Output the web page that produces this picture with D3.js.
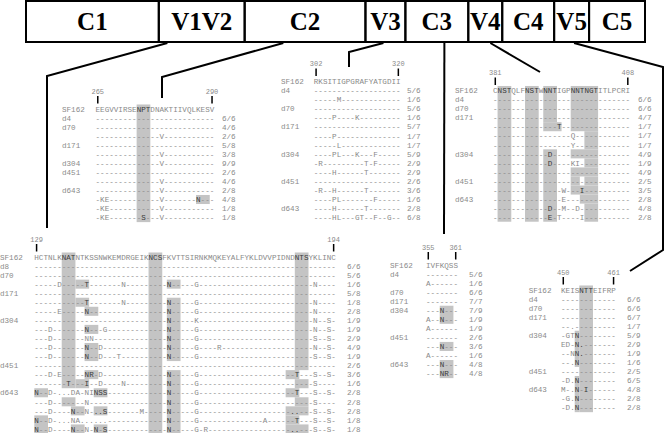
<!DOCTYPE html>
<html>
<head>
<meta charset="utf-8">
<script src="https://cdn.jsdelivr.net/npm/d3@7"></script>
<style>
  body { margin: 0; background: #fff; }
  svg { display: block; }
</style>
</head>
<body>
<svg id="chart" width="664" height="433"></svg>
<script>
// envelope regions along the top bar (schematic lengths)
const regionNames = ["C1", "V1V2", "C2", "V3", "C3", "V4", "C4", "V5", "C5"];
const regionUnits = [133, 86, 121, 40, 63, 34, 52, 35, 56];

// variant notation: "<col><letters>" tokens, everything else is "-" (same as SF162)
// shading: [firstRow, lastRow, firstCol, lastCol], row 0 = SF162

// V1V2, HXB2 129-194
const v1v2Span = [129, 194];
const v1v2Ref = "HCTNLKNATNTKSSNWKEMDRGEIKNCSFKVTTSIRNKMQKEYALFYKLDVVPIDNDNTSYKLINC";
const v1v2Donors = ["d8", "d70", "", "d171", "", "", "d304", "", "", "", "", "d451", "", "", "d643", "", "", "", ""];
const v1v2Vars = [
  "", "",
  "5D 11T 19N 29N 35G 61N",
  "",
  "11T 19N 29N 35G 61N",
  "5E 11N 29N 35G 61N",
  "29N 35K 61N 64S",
  "3D 11N 15G 29N 35G 61N 64S",
  "3D 11NN 29N 35G 61S 64S",
  "3D 11N 14D 29N 35G 40R 61N 64S",
  "3D 11N 14D 18T 29N 35G 61S 64S",
  "",
  "3D 5E 11NR 14D 29N 35G 57T 61S 64S",
  "7T 11I 14D 19N 29N 35G 61S",
  "0N 3D 5... 8DA 11NINSS 29N 35G 57T 61S 64S",
  "3D 11N 29N 35G 61S",
  "3D 8N 11N 13..S 23M 29N 35G 56.. 61S 64S",
  "0N 3D 5... 8NA 10...... 29N 35G 50A 57T 61S 64S",
  "0N 3D 8N 11N 13N 15S 29N 35G 37R 56.. 61S 64S"
];
const v1v2Freq = ["6/6", "5/6", "1/6", "5/8", "1/8", "2/8", "1/9", "1/9", "2/9", "4/9", "1/9",
  "2/6", "3/6", "1/6", "2/8", "2/8", "2/8", "1/8", "1/8"];
const v1v2Glyc = [
  [0, 14, 6, 8], [3, 3, 9, 11], [5, 5, 9, 11], [14, 14, 9, 11], [16, 16, 6, 8],
  [6, 6, 11, 13], [8, 8, 11, 13], [10, 11, 11, 13], [13, 13, 11, 13],
  [15, 15, 13, 15], [15, 15, 0, 2], [18, 19, 0, 2], [17, 17, 8, 10], [19, 19, 8, 10],
  [17, 17, 13, 15], [19, 19, 13, 15],
  [0, 19, 25, 27],
  [3, 3, 29, 31], [5, 11, 29, 31], [13, 19, 29, 31],
  [0, 12, 57, 59], [13, 13, 55, 57], [14, 14, 57, 59], [15, 15, 55, 57], [16, 16, 57, 59],
  [17, 17, 55, 59], [18, 18, 55, 57], [19, 19, 55, 59]
];

// C2, HXB2 265-290
const c2Span = [265, 290];
const c2Ref = "EEGVVIRSENPTDNAKTIIVQLKESV";
const c2Donors = ["d4", "d70", "", "d171", "", "d304", "d451", "", "d643", "", "", ""];
const c2Vars = ["", "", "14V", "", "14V", "14V", "", "14V", "14V", "1KE 14V 22N", "1KE 14V", "1KE 10S 14V"];
const c2Freq = ["6/6", "4/6", "2/6", "5/8", "3/8", "9/9", "2/6", "4/6", "2/8", "4/8", "1/8", "1/8"];
const c2Glyc = [[0, 12, 9, 11], [10, 10, 22, 24]];

// V3, HXB2 302-320
const v3Span = [302, 320];
const v3Ref = "RKSITIGPGRAFYATGDII";
const v3Donors = ["d4", "", "d70", "", "d171", "", "", "d304", "", "", "d451", "", "", "d643", ""];
const v3Vars = ["", "5M", "", "4P 9K", "", "4P", "5L", "4PL 9K 13F", "1R 11T 13F", "4H 11T", "",
  "1R 4H 11T", "4PL 13F", "4H 11T", "4HL 9GT 13F 16G"];
const v3Freq = ["5/6", "1/6", "5/6", "1/6", "5/7", "1/7", "1/7", "5/9", "2/9", "2/9", "2/6", "3/6", "1/6", "2/8", "6/8"];
const v3Glyc = [];

// C3, HXB2 355-361
const c3Span = [355, 361];
const c3Ref = "IVFKQSS";
const c3Donors = ["d4", "", "d70", "d171", "d304", "", "", "d451", "", "", "d643", ""];
const c3Vars = ["", "0A", "", "", "3N", "0A 3N", "0A", "", "3N", "0A", "3N", "3NR"];
const c3Freq = ["5/6", "1/6", "6/6", "7/7", "7/9", "1/9", "1/9", "2/6", "3/6", "1/6", "4/8", "4/8"];
const c3Glyc = [[5, 6, 3, 5], [9, 9, 3, 5], [11, 12, 3, 5]];

// V4, HXB2 381-408
const v4Span = [381, 408];
const v4Ref = "CNSTQLFNSTWNNTIGPNNTNGTITLPCRI";
const v4Donors = ["d4", "d70", "d171", "", "", "", "d304", "", "", "d451", "", "d643", "", ""];
const v4Vars = ["", "", "", "14T", "17Q", "17Y", "12D", "12D 17KI", "", "", "15W 19I", "15E", "12D 15M 18D", "12E 14T 19I"];
const v4Freq = ["6/6", "6/6", "4/7", "1/7", "1/7", "1/7", "4/9", "1/9", "4/9", "2/5", "3/5", "2/8", "4/8", "2/8"];
const v4Glyc = [
  [0, 14, 1, 3], [0, 14, 7, 9], [0, 3, 11, 13], [4, 4, 11, 14], [7, 14, 11, 13],
  [0, 4, 17, 22], [5, 6, 20, 22], [7, 7, 17, 22], [8, 8, 20, 22], [9, 9, 17, 22],
  [10, 10, 17, 18], [10, 10, 20, 22], [11, 11, 17, 22], [12, 12, 19, 22], [13, 14, 20, 22]
];

// V5, HXB2 450-461
const v5Span = [450, 461];
const v5Ref = "KEISNTTEIFRP";
const v5Donors = ["d4", "d70", "d171", "", "d304", "", "", "", "d451", "", "d643", "", ""];
const v5Vars = ["", "", "", "2.", "1GTN", "0ED 3N.", "2NN.", "2.N", "", "1D.N", "0M 2.N 5I", "1G.N", "1D.N"];
const v5Freq = ["6/6", "6/6", "6/7", "1/7", "5/9", "2/9", "1/9", "1/6", "2/5", "6/5", "4/8", "2/8", "2/8"];
const v5Glyc = [[0, 13, 4, 6], [5, 8, 3, 3], [10, 13, 3, 3]];

// ---- layout ----
const W = 664, H = 433;
const CW = 4.57, ROW = 9.05, FS = 7.6;
const MONO = '"Liberation Mono", "DejaVu Sans Mono", monospace';
const GREY = "#8a8a8a", DARK = "#3a3a3a", SHADE = "#c4c4c4";

const panels = [
  { span: v1v2Span, ref: v1v2Ref, donors: v1v2Donors, vars: v1v2Vars, freq: v1v2Freq, glyc: v1v2Glyc,
    labelX: 0, seqX: 34.3, y0: 257, fracX: 347 },
  { span: c2Span, ref: c2Ref, donors: c2Donors, vars: c2Vars, freq: c2Freq, glyc: c2Glyc,
    labelX: 62, seqX: 95.5, y0: 109, fracX: 222 },
  { span: v3Span, ref: v3Ref, donors: v3Donors, vars: v3Vars, freq: v3Freq, glyc: v3Glyc,
    labelX: 281, seqX: 313.8, y0: 81.5, fracX: 407 },
  { span: c3Span, ref: c3Ref, donors: c3Donors, vars: c3Vars, freq: c3Freq, glyc: c3Glyc,
    labelX: 390, seqX: 426, y0: 265, fracX: 469 },
  { span: v4Span, ref: v4Ref, donors: v4Donors, vars: v4Vars, freq: v4Freq, glyc: v4Glyc,
    labelX: 455, seqX: 493, y0: 90.5, fracX: 638 },
  { span: v5Span, ref: v5Ref, donors: v5Donors, vars: v5Vars, freq: v5Freq, glyc: v5Glyc,
    labelX: 528.7, seqX: 561, y0: 290, fracX: 627 }
];

// leader lines: start as fraction along a region box, then bends
const connectors = [
  { region: "V1V2", at: 0.1, pts: [[47, 76], [47, 228]] },
  { region: "C2", at: 0.32, pts: [[162, 77], [162, 98]] },
  { region: "V3", at: 0.45, pts: [[349, 52], [349, 67]] },
  { region: "C3", at: 0.62, pts: [[444, 234]] },
  { region: "V4", at: 0.65, pts: [[540, 72]] },
  { region: "V5", at: 0.57, pts: [[663, 67], [663, 250], [630, 271]] }
];

const svg = d3.select("#chart");
svg.append("rect").attr("width", W).attr("height", H).attr("fill", "#fff");

// top bar
const barTop = 1, barBottom = 42;
const cum = [0];
regionUnits.forEach(u => cum.push(cum[cum.length - 1] + u));
const bx = d3.scaleLinear().domain([0, cum[cum.length - 1]]).range([26, 645]);
const regions = regionNames.map((name, i) => ({ name, x0: bx(cum[i]), x1: bx(cum[i + 1]) }));

const bar = svg.append("g");
bar.selectAll("rect").data(regions).join("rect")
  .attr("x", d => d.x0).attr("y", barTop)
  .attr("width", d => d.x1 - d.x0).attr("height", barBottom - barTop)
  .attr("fill", "none").attr("stroke", "#000").attr("stroke-width", 2);
bar.selectAll("text").data(regions).join("text")
  .attr("x", d => (d.x0 + d.x1) / 2).attr("y", 29.5)
  .attr("text-anchor", "middle")
  .style("font-family", '"Liberation Serif", "Times New Roman", serif')
  .style("font-weight", "bold").style("font-size", "25px")
  .text(d => d.name);

// leader lines
const line = d3.line();
svg.append("g").selectAll("path").data(connectors).join("path")
  .attr("d", c => {
    const r = regions.find(d => d.name === c.region);
    return line([[r.x0 + (r.x1 - r.x0) * c.at, barBottom + 1], ...c.pts]);
  })
  .attr("fill", "none").attr("stroke", "#000").attr("stroke-width", 2);

function expand(ref, spec) {
  const out = Array.from(ref, () => "-");
  spec.split(" ").filter(Boolean).forEach(tok => {
    const m = tok.match(/^(\d+)(.+)$/);
    [...m[2]].forEach((ch, i) => { out[+m[1] + i] = ch; });
  });
  return out;
}

function drawPanel(p) {
  const n = p.ref.length;
  const rows = [Array.from(p.ref), ...p.vars.map(v => expand(p.ref, v))];
  const x = d3.scaleLinear().domain([0, n]).range([p.seqX, p.seqX + n * CW]);
  const y = d3.scaleLinear().domain([0, rows.length - 1]).range([p.y0, p.y0 + (rows.length - 1) * ROW]);
  const g = svg.append("g").style("font-family", MONO).style("font-size", FS + "px");

  // shaded glycosylation sites
  g.selectAll("rect.glyc").data(p.glyc).join("rect").attr("class", "glyc")
    .attr("x", d => x(d[2])).attr("width", d => x(d[3] + 1) - x(d[2]))
    .attr("y", d => y(d[0]) - ROW / 2).attr("height", d => y(d[1]) - y(d[0]) + ROW)
    .attr("fill", SHADE);

  const shaded = (r, c) => p.glyc.some(d => r >= d[0] && r <= d[1] && c >= d[2] && c <= d[3]);
  const cells = rows.flatMap((s, r) => s.map((ch, c) => ({ r, c, ch })));
  g.selectAll("text.res").data(cells).join("text").attr("class", "res")
    .attr("x", d => x(d.c + 0.5)).attr("y", d => y(d.r) + 2.7)
    .attr("text-anchor", "middle")
    .attr("fill", d => (d.ch !== "-" && shaded(d.r, d.c)) ? DARK : GREY)
    .text(d => d.ch);

  // sample labels
  g.selectAll("text.lab").data(["SF162", ...p.donors]).join("text").attr("class", "lab")
    .attr("x", p.labelX).attr("y", (d, i) => y(i) + 2.7)
    .attr("fill", GREY).text(d => d);

  // frequencies
  g.selectAll("text.frq").data(p.freq).join("text").attr("class", "frq")
    .attr("x", p.fracX).attr("y", (d, i) => y(i + 1) + 2.7)
    .attr("fill", GREY).text(d => d);

  // position ticks
  const ticks = [{ c: 0, v: p.span[0] }, { c: n - 1, v: p.span[1] }];
  g.selectAll("line.tk").data(ticks).join("line").attr("class", "tk")
    .attr("x1", d => x(d.c + 0.5)).attr("x2", d => x(d.c + 0.5))
    .attr("y1", p.y0 - 13).attr("y2", p.y0 - 5.5)
    .attr("stroke", "#000").attr("stroke-width", 1.5);
  g.selectAll("text.tkl").data(ticks).join("text").attr("class", "tkl")
    .attr("x", d => x(d.c + 0.5)).attr("y", p.y0 - 15.5)
    .attr("text-anchor", "middle").attr("fill", GREY)
    .style("font-size", "7px").text(d => d.v);
}

panels.forEach(drawPanel);
</script>
</body>
</html>
